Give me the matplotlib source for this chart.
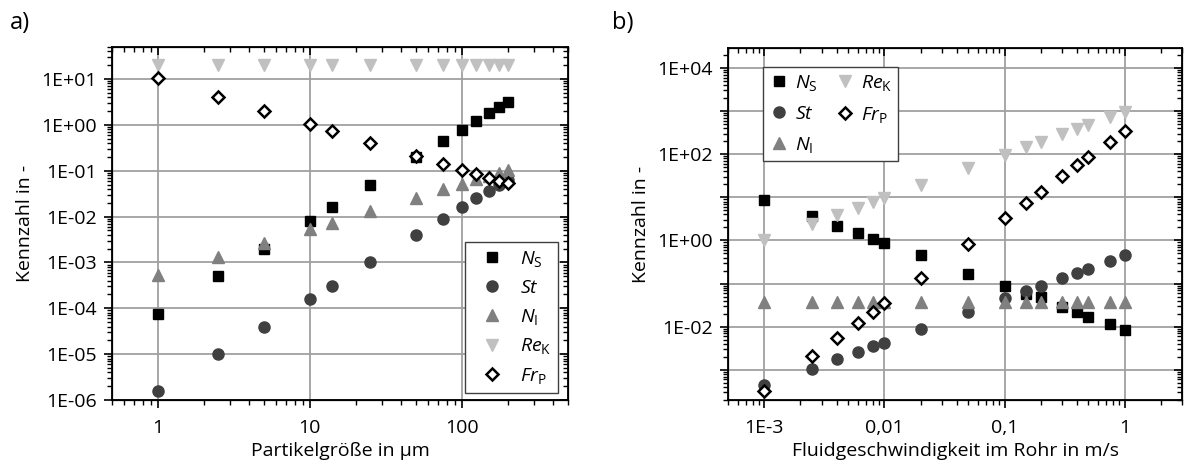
import numpy as np
import matplotlib.pyplot as plt
from matplotlib.ticker import LogLocator, FixedLocator, FixedFormatter, FuncFormatter, NullFormatter

plt.rcParams['font.family'] = ['Open Sans', 'DejaVu Sans']
plt.rcParams['mathtext.fontset'] = 'custom'
plt.rcParams['mathtext.rm'] = 'Open Sans'
plt.rcParams['mathtext.it'] = 'Open Sans:italic'

# --- a) Partikelgröße
d_um = [1, 2.5, 5, 10, 14, 25, 50, 75, 100, 125, 150, 175, 200]
ns_a = [7.7e-5, 5.0e-4, 1.95e-3, 8.2e-3, 1.6e-2, 4.9e-2, 0.2, 0.44, 0.77, 1.24, 1.8, 2.5, 3.2]
st_a = [1.6e-6, 1.0e-5, 3.9e-5, 1.6e-4, 3.1e-4, 1.0e-3, 4.0e-3, 9.0e-3, 1.6e-2, 2.5e-2, 3.6e-2, 4.9e-2, 6.4e-2]
ni_a = [5.4e-4, 1.3e-3, 2.6e-3, 5.3e-3, 7.4e-3, 1.3e-2, 2.6e-2, 4.0e-2, 5.2e-2, 6.6e-2, 7.8e-2, 9.0e-2, 0.105]
re_a = [20, 20, 20, 20, 20, 20, 20, 20, 20, 20, 20, 20, 20]
fr_a = [10.5, 4.1, 2.05, 1.04, 0.75, 0.41, 0.21, 0.14, 0.105, 0.085, 0.07, 0.06, 0.053]

# --- b) Fluidgeschwindigkeit
v_ms = [0.001, 0.0025, 0.004, 0.006, 0.008, 0.01, 0.02, 0.05, 0.1, 0.15, 0.2, 0.3, 0.4, 0.5, 0.75, 1]
ns_b = [8.9, 3.6, 2.15, 1.48, 1.1, 0.87, 0.45, 0.17, 0.086, 0.058, 0.048, 0.028, 0.022, 0.017, 0.0115, 0.0085]
st_b = [4.4e-4, 1.07e-3, 1.8e-3, 2.6e-3, 3.5e-3, 4.3e-3, 8.8e-3, 2.2e-2, 0.046, 0.066, 0.089, 0.134, 0.18, 0.22, 0.34, 0.45]
ni_b = [0.037] * 16
re_b = [1.0, 2.4, 3.9, 5.7, 7.6, 9.5, 19, 48, 95, 148, 195, 290, 380, 470, 740, 970]
fr_b = [3.3e-4, 2.1e-3, 5.4e-3, 1.2e-2, 2.15e-2, 3.5e-2, 0.135, 0.84, 3.4, 7.5, 13.3, 31, 56, 87, 194, 350]

labels = [r'$N_\mathrm{S}$', r'$St$', r'$N_\mathrm{I}$', r'$Re_\mathrm{K}$', r'$Fr_\mathrm{P}$']
styles = [dict(marker='s', color='black', ms=7.5),
          dict(marker='o', color='#404040', ms=8),
          dict(marker='^', color='#808080', ms=8.5),
          dict(marker='v', color='#c0c0c0', ms=8.5),
          dict(marker='D', mfc='white', mec='black', mew=1.8, ms=6.5)]

FS = 14


def sci(v, pos, every=1):
    e = int(round(np.log10(v)))
    if e % every:
        return ''
    return f'1E{e:+03d}'


def style_axes(ax, xlim, ylim, xticks, xticklabels, ylab_every):
    ax.set_xscale('log')
    ax.set_yscale('log')
    ax.set_xlim(*xlim)
    ax.set_ylim(*ylim)
    ax.xaxis.set_major_locator(FixedLocator(xticks))
    ax.xaxis.set_major_formatter(FixedFormatter(xticklabels))
    ax.xaxis.set_minor_locator(LogLocator(base=10, subs=np.arange(2, 10), numticks=30))
    ax.xaxis.set_minor_formatter(NullFormatter())
    ax.yaxis.set_major_locator(LogLocator(base=10, numticks=30))
    ax.yaxis.set_major_formatter(FuncFormatter(lambda v, p: sci(v, p, ylab_every)))
    ax.yaxis.set_minor_locator(LogLocator(base=10, subs=np.arange(2, 10), numticks=30))
    ax.yaxis.set_minor_formatter(NullFormatter())
    ax.grid(True, which='major', color='#a0a0a0', lw=1.3)
    ax.set_axisbelow(True)
    ax.tick_params(which='major', direction='out', length=6, width=1.2, labelsize=FS)
    ax.tick_params(which='minor', direction='out', length=3.5, width=1.0)
    ax.tick_params(axis='x', which='major', pad=8)
    ax.tick_params(axis='y', which='major', pad=5)
    for s in ax.spines.values():
        s.set_linewidth(1.3)
    # inner ticks on top and right
    tx = ax.twiny()
    tx.set_xscale('log')
    tx.set_xlim(*xlim)
    tx.xaxis.set_major_locator(FixedLocator(xticks))
    tx.xaxis.set_minor_locator(LogLocator(base=10, subs=np.arange(2, 10), numticks=30))
    tx.tick_params(which='both', direction='in', labeltop=False)
    tx.tick_params(which='major', length=6, width=1.2)
    tx.tick_params(which='minor', length=3.5, width=1.0)
    ty = ax.twinx()
    ty.set_yscale('log')
    ty.set_ylim(*ylim)
    ty.yaxis.set_major_locator(LogLocator(base=10, numticks=30))
    ty.yaxis.set_minor_locator(LogLocator(base=10, subs=np.arange(2, 10), numticks=30))
    ty.tick_params(which='both', direction='in', labelright=False)
    ty.tick_params(which='major', length=6, width=1.2)
    ty.tick_params(which='minor', length=3.5, width=1.0)


fig = plt.figure(figsize=(11.84, 4.67), dpi=100)
ax1 = fig.add_axes([112/1184, 1-400/467, 456/1184, 353/467])
ax2 = fig.add_axes([728/1184, 1-400/467, 454/1184, 352/467])

for ys, lab, st in zip([ns_a, st_a, ni_a, re_a, fr_a], labels, styles):
    ax1.plot(d_um, ys, ls='none', label=lab, **st)
for ys, lab, st in zip([ns_b, st_b, ni_b, re_b, fr_b], labels, styles):
    ax2.plot(v_ms, ys, ls='none', label=lab, **st)

leg1 = ax1.legend(loc='lower right', bbox_to_anchor=(0.978, 0.02), borderaxespad=0,
                  fontsize=FS, labelspacing=0.5, handletextpad=0.45, handlelength=2.0,
                  fancybox=False, framealpha=1, edgecolor='#404040', borderpad=0.35)
leg2 = ax2.legend(loc='upper left', bbox_to_anchor=(0.077, 0.946), borderaxespad=0, ncol=2,
                  fontsize=FS, labelspacing=0.62, handletextpad=0.35, handlelength=1.0,
                  columnspacing=0.9, fancybox=False, framealpha=1, edgecolor='#404040', borderpad=0.3)
for lg in (leg1, leg2):
    lg.get_frame().set_linewidth(1.0)

style_axes(ax1, (0.5, 500), (1e-6, 50), [1, 10, 100], ['1', '10', '100'], 1)
style_axes(ax2, (5e-4, 3), (2e-4, 2.9e4), [1e-3, 1e-2, 1e-1, 1], ['1E-3', '0,01', '0,1', '1'], 2)

ax1.set_xlabel('Partikelgröße in µm', fontsize=FS, labelpad=3)
ax1.set_ylabel('Kennzahl in -', fontsize=FS, labelpad=5)
ax2.set_xlabel('Fluidgeschwindigkeit im Rohr in m/s', fontsize=FS, labelpad=3)
ax2.set_ylabel('Kennzahl in -', fontsize=FS, labelpad=5)

fig.text(10/1184, 1-29/467, 'a)', fontsize=17, va='baseline')
fig.text(612/1184, 1-29/467, 'b)', fontsize=17, va='baseline')

fig.savefig('out.png', dpi=100)
